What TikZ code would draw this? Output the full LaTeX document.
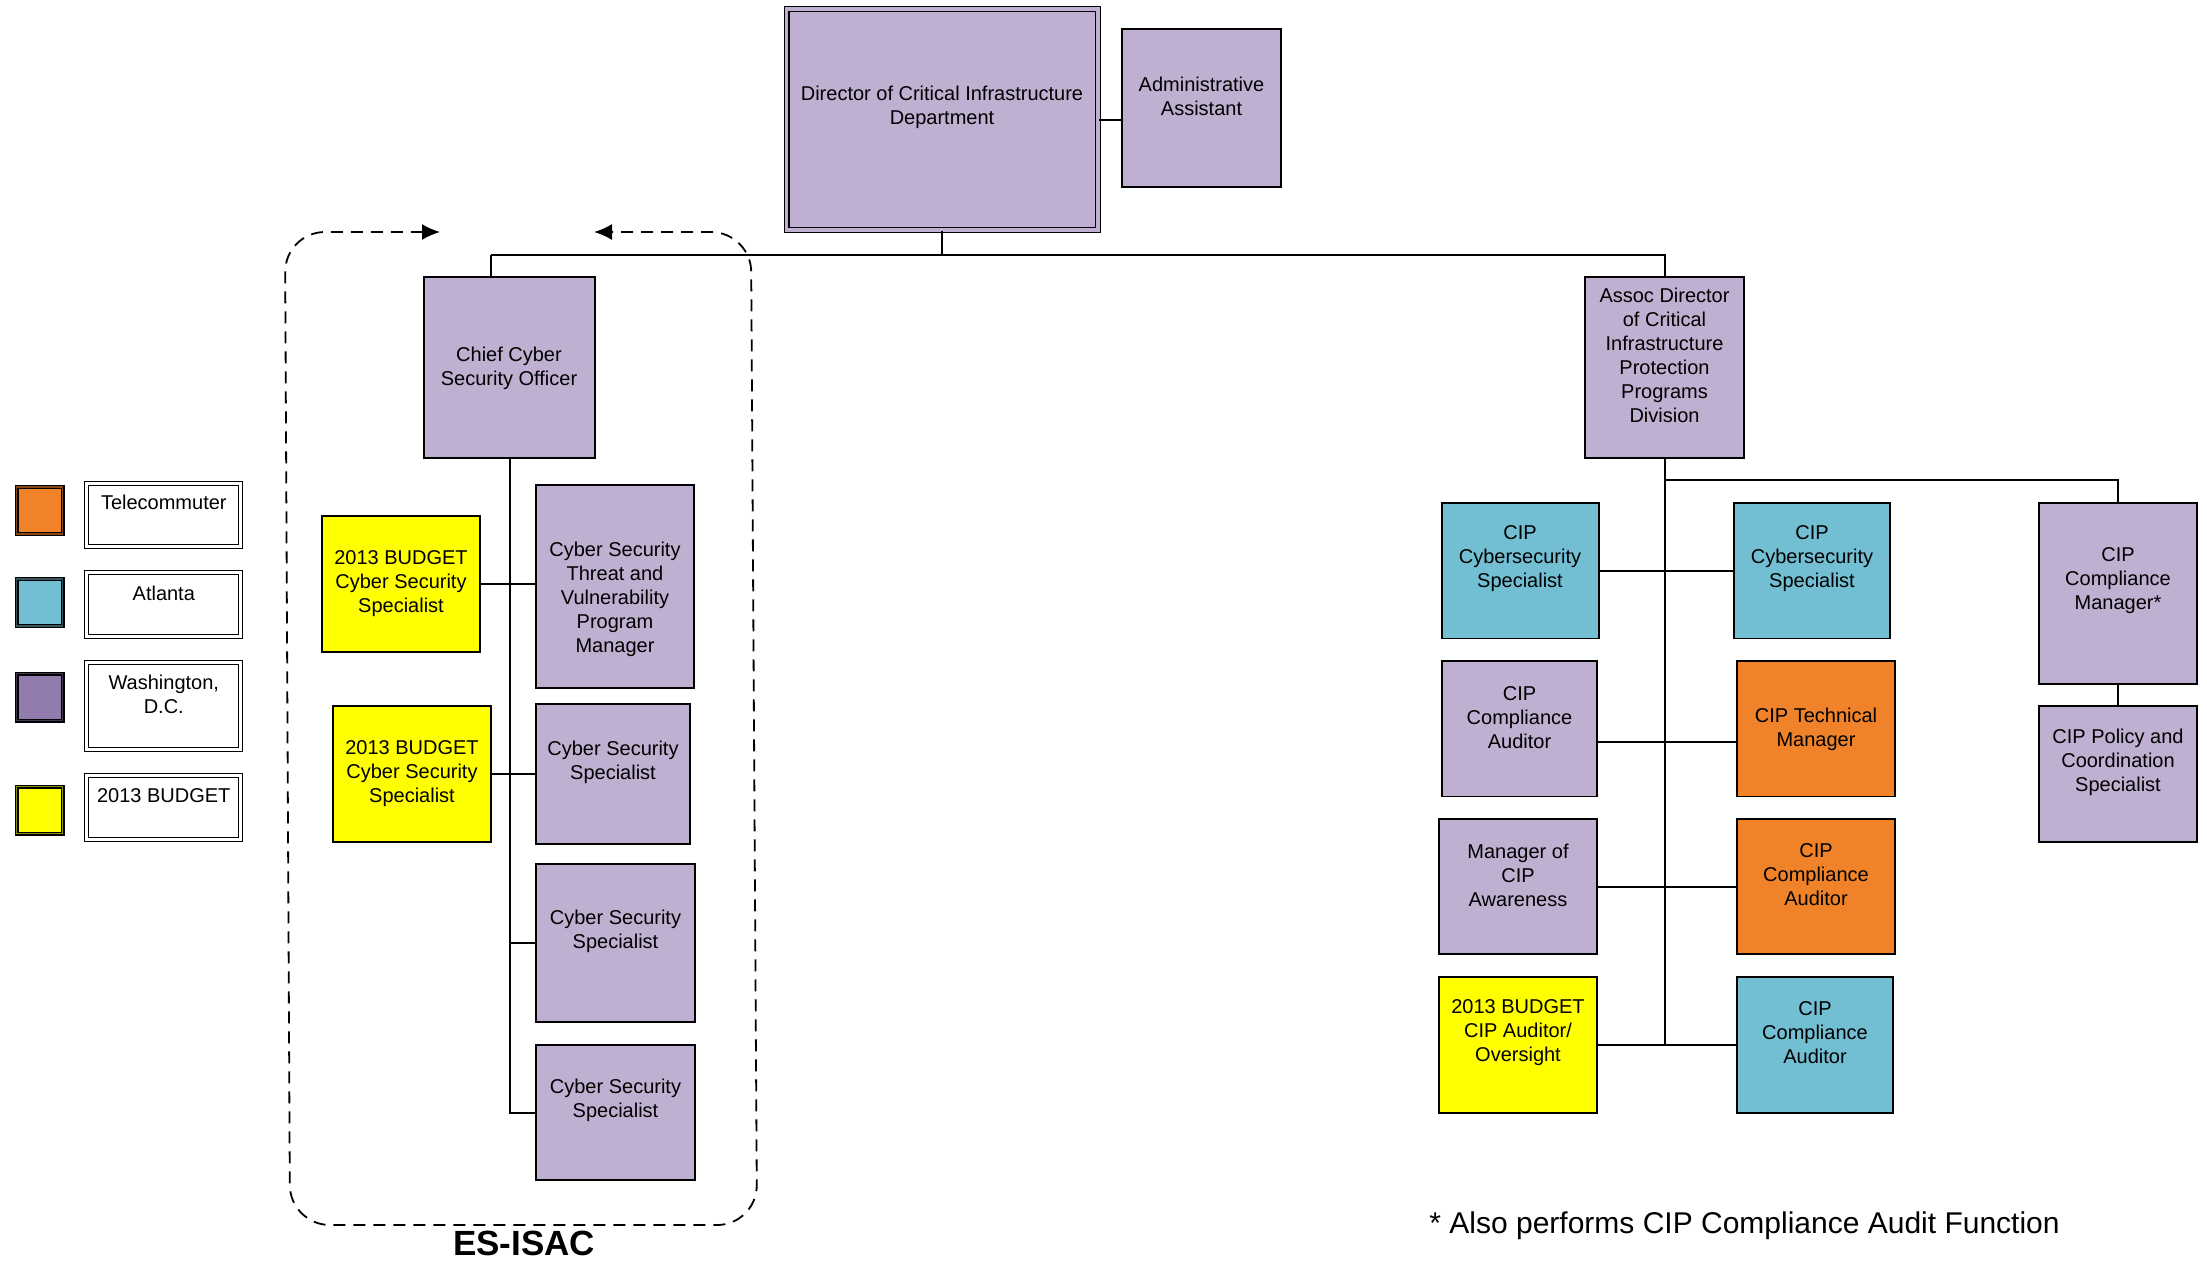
\documentclass[tikz,border=0pt]{standalone}
\usepackage{fontspec}
\setmainfont{Liberation Sans}
\usetikzlibrary{arrows.meta,calc}
\definecolor{purpleN}{RGB}{191,176,209}
\definecolor{blueN}{RGB}{114,190,211}
\definecolor{orangeN}{RGB}{240,131,42}
\definecolor{yellowN}{RGB}{255,255,0}
\definecolor{purpleS}{RGB}{146,124,174}
\begin{document}
\begin{tikzpicture}[x=0.5pt,y=-0.5pt,
  box/.style={draw=black,line width=0.9pt,rectangle,inner sep=0pt},
  dbox/.style={draw=black,line width=0.7pt,double=purpleN,double distance=1.6pt,rectangle,inner sep=0pt},
  legbox/.style={draw=black,line width=0.6pt,double=white,double distance=1.4pt,rectangle,inner sep=0pt,fill=white,minimum width=77pt},
  swatch/.style={draw=black,line width=0.6pt,double distance=0.8pt,rectangle,inner sep=0pt,minimum width=23pt,minimum height=23.5pt},
  txt/.style={font=\fontsize{10}{12}\selectfont,align=center,inner sep=0pt},
  conn/.style={draw=black,line width=1pt},
  dashline/.style={draw=black,line width=0.9pt,dash pattern=on 6pt off 4pt,rounded corners=20pt}
]
\fill[white] (0,0) rectangle (2207,1260);
\useasboundingbox (0,0) rectangle (2207,1260);

% ---------- top ----------
\node[dbox,fill=purpleN,minimum width=155.75pt,minimum height=110.5pt] (dir) at (942.25,119.5) {};
\node[txt] (tdir) at (942,107) {Director of Critical Infrastructure\\Department};
\node[box,fill=purpleN,minimum width=79.5pt,minimum height=79pt] (adm) at (1201.5,108) {};
\node[txt] (tadm) at (1201.5,96) {Administrative\\Assistant};

% ---------- left group ----------
\node[box,fill=purpleN,minimum width=85.5pt,minimum height=90.5pt] (ccso) at (509.5,367.5) {};
\node[txt] (tccso) at (509,368.5) {Chief Cyber\\Security Officer};
\node[box,fill=yellowN,minimum width=79pt,minimum height=68pt] (yb1) at (401,584) {};
\node[txt] (tyb1) at (401,584) {2013 BUDGET\\Cyber Security\\Specialist};
\node[box,fill=purpleN,minimum width=79pt,minimum height=101.5pt] (thr) at (615,586.5) {};
\node[txt] (tthr) at (615,599) {Cyber Security\\Threat and\\Vulnerability\\Program\\Manager};
\node[box,fill=yellowN,minimum width=79pt,minimum height=68pt] (yb2) at (412,774) {};
\node[txt] (tyb2) at (412,774) {2013 BUDGET\\Cyber Security\\Specialist};
\node[box,fill=purpleN,minimum width=77pt,minimum height=70pt] (css1) at (613,774) {};
\node[txt] (tcss1) at (613,762) {Cyber Security\\Specialist};
\node[box,fill=purpleN,minimum width=79.5pt,minimum height=79pt] (css2) at (615.5,943) {};
\node[txt] (tcss2) at (615.5,931.5) {Cyber Security\\Specialist};
\node[box,fill=purpleN,minimum width=79.5pt,minimum height=67.5pt] (css3) at (615.5,1112.5) {};
\node[txt] (tcss3) at (615.5,1100) {Cyber Security\\Specialist};

% ---------- right group ----------
\node[box,fill=purpleN,minimum width=79.5pt,minimum height=90.5pt] (asc) at (1664.5,367.5) {};
\node[txt] (tasc) at (1664.5,355.5) {Assoc Director\\of Critical\\Infrastructure\\Protection\\Programs\\Division};
\node[box,fill=blueN,minimum width=78.5pt,minimum height=67.75pt] (cyl) at (1520.5,570.75) {};
\node[txt] (tcyl) at (1520,559) {CIP\\Cybersecurity\\Specialist};
\node[box,fill=blueN,minimum width=78pt,minimum height=67.75pt] (cyr) at (1812,570.75) {};
\node[txt] (tcyr) at (1812,559) {CIP\\Cybersecurity\\Specialist};
\node[box,fill=purpleN,minimum width=79pt,minimum height=90.5pt] (cmg) at (2118,593.5) {};
\node[txt] (tcmg) at (2118,581) {CIP\\Compliance\\Manager*};
\node[box,fill=purpleN,minimum width=79pt,minimum height=68pt] (pol) at (2118,774) {};
\node[txt] (tpol) at (2118,762) {CIP Policy and\\Coordination\\Specialist};
\node[box,fill=purpleN,minimum width=77.5pt,minimum height=67.75pt] (cap) at (1519.5,728.75) {};
\node[txt] (tcap) at (1519.5,717.4) {CIP\\Compliance\\Auditor};
\node[box,fill=orangeN,minimum width=79pt,minimum height=67.75pt] (tmg) at (1816,728.75) {};
\node[txt] (ttmg) at (1816,729) {CIP Technical\\Manager};
\node[box,fill=purpleN,minimum width=79pt,minimum height=67.5pt] (mga) at (1518,886.5) {};
\node[txt] (tmga) at (1518,875.4) {Manager of\\CIP\\Awareness};
\node[box,fill=orangeN,minimum width=79pt,minimum height=67.5pt] (oau) at (1816,886.5) {};
\node[txt] (toau) at (1816,875) {CIP\\Compliance\\Auditor};
\node[box,fill=yellowN,minimum width=79pt,minimum height=68pt] (ybr) at (1518,1045) {};
\node[txt] (tybr) at (1518,1033) {2013 BUDGET\\CIP Auditor/\\Oversight};
\node[box,fill=blueN,minimum width=78pt,minimum height=68pt] (bau) at (1815,1045) {};
\node[txt] (tbau) at (1815,1033) {CIP\\Compliance\\Auditor};

% ---------- connectors ----------
\coordinate (ybus) at (0,255);
\coordinate (busL) at (491,255);
\coordinate (ccsoTop) at (491,277);
\coordinate (ybr480) at (0,480);
\draw[conn] (dir.east) -- (dir.east -| adm.west);
\draw[conn] (dir.south) -- (dir.south |- ybus);
\draw[conn] (busL) -- (asc.north |- ybus) -- (asc.north);
\draw[conn] (busL) -- (ccsoTop);
% left tree
\draw[conn] (ccso.south) -- (ccso.south |- css3.west) -- (css3.west);
\draw[conn] (yb1.east) -- (yb1.east -| thr.west);
\draw[conn] (yb2.east) -- (css1.west);
\draw[conn] (ccso.south |- css2.west) -- (css2.west);
% right tree
\draw[conn] (asc.south) -- (asc.south |- bau.west);
\draw[conn] (asc.south |- ybr480) -- (cmg.north |- ybr480) -- (cmg.north);
\draw[conn] (cmg.south) -- (pol.north);
\draw[conn] (cyl.east) -- (cyr.west);
\draw[conn] ($(cap.east)+(0,13.25)$) -- ($(tmg.west)+(0,13.25)$);
\draw[conn] (mga.east) -- (oau.west);
\draw[conn] (ybr.east) -- (bau.west);

% ---------- ES-ISAC dashed outline ----------
\coordinate (dTipL) at (440,232);
\coordinate (dC1) at (285,232);
\coordinate (dC2) at (290,1225);
\coordinate (dC3) at (757,1225);
\coordinate (dC4) at (751,232);
\coordinate (dTipR) at (594,232);
\draw[dashline,{Latex[length=9pt,width=8pt]}-{Latex[length=9pt,width=8pt]}]
  (dTipL) -- (dC1) -- (dC2) -- (dC3) -- (dC4) -- (dTipR);
\node[inner sep=0pt,font=\fontsize{17.5}{20}\selectfont\bfseries] (esisac) at (524,1243) {ES-ISAC};

% ---------- footnote ----------
\node[inner sep=0pt,anchor=base west,font=\fontsize{15}{18}\selectfont] (foot) at (1429,1233) {* Also performs CIP Compliance Audit Function};

% ---------- legend ----------
\node[swatch,fill=orangeN,double=orangeN!55!black] (sw1) at (39.5,510.5) {};
\node[swatch,fill=blueN,double=blueN!45!black] (sw2) at (39.5,602.5) {};
\node[swatch,fill=purpleS,double=purpleS!45!black] (sw3) at (39.5,697) {};
\node[swatch,fill=yellowN,double=yellowN!55!black] (sw4) at (39.5,810) {};
\node[legbox,minimum height=31.5pt] (lg1) at (163.8,514.7) {};
\node[txt] (tlg1) at (163.8,502) {Telecommuter};
\node[legbox,minimum height=32pt] (lg2) at (163.8,604.5) {};
\node[txt] (tlg2) at (163.8,593) {Atlanta};
\node[legbox,minimum height=43.5pt] (lg3) at (163.8,705.8) {};
\node[txt] (tlg3) at (163.8,694) {Washington,\\D.C.};
\node[legbox,minimum height=32pt] (lg4) at (163.8,807.5) {};
\node[txt] (tlg4) at (163.8,795.5) {2013 BUDGET};
\end{tikzpicture}
\end{document}
